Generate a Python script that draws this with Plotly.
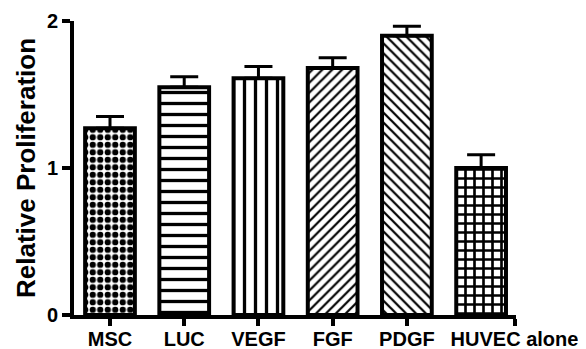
import plotly.graph_objects as go

categories = ["MSC", "LUC", "VEGF", "FGF", "PDGF", "HUVEC alone"]
values = [1.27, 1.55, 1.61, 1.68, 1.90, 1.00]
errors = [0.08, 0.07, 0.08, 0.07, 0.065, 0.09]
patterns = [".", "-", "|", "/", "\\", "+"]
pattern_sizes = [7.5, 11, 11, 7, 7, 9]
pattern_solidity = [0.55, 0.3, 0.3, 0.32, 0.32, 0.5]
y_ticks = [0, 1, 2]
# last label sits to the right of its bar, as in the reference
tick_positions = [0, 1, 2, 3, 4, 5.45]

positions = list(range(len(categories)))

fig = go.Figure()
fig.add_trace(go.Bar(
    x=positions,
    y=values,
    width=0.67,
    marker=dict(
        color="white",
        line=dict(color="black", width=4),
        pattern=dict(
            shape=patterns,
            size=pattern_sizes,
            solidity=pattern_solidity,
            fgcolor="black",
            bgcolor="white",
            fillmode="replace",
        ),
    ),
    error_y=dict(
        type="data",
        symmetric=False,
        array=errors,
        arrayminus=[0] * len(errors),
        color="black",
        thickness=3,
        width=14,
    ),
    showlegend=False,
))

font_family = "Arial, 'Liberation Sans', Helvetica, sans-serif"

# the page body has an 8px default margin, so the figure is sized to the
# remaining visible area
fig.update_layout(
    width=578,
    height=341,
    margin=dict(l=66, r=70, t=13, b=34, autoexpand=False),
    paper_bgcolor="white",
    plot_bgcolor="white",
    font=dict(family=font_family, color="black"),
    xaxis=dict(
        range=[-0.485, 5.47],
        tickmode="array",
        tickvals=tick_positions,
        ticktext=categories,
        tickfont=dict(size=20, family=font_family, color="black", weight="bold"),
        ticklabelstandoff=-4,
        showline=True,
        linecolor="black",
        linewidth=4,
        ticks="outside",
        ticklen=7,
        tickwidth=4,
        tickcolor="black",
        showgrid=False,
        zeroline=False,
        automargin=False,
        fixedrange=True,
    ),
    yaxis=dict(
        range=[0, 2],
        tickmode="array",
        tickvals=y_ticks,
        ticktext=[str(v) for v in y_ticks],
        tickfont=dict(size=20, family=font_family, color="black", weight="bold"),
        showline=True,
        linecolor="black",
        linewidth=4,
        ticks="outside",
        ticklen=8,
        tickwidth=4,
        tickcolor="black",
        showgrid=False,
        zeroline=False,
        automargin=False,
        title=dict(
            text="Relative Proliferation",
            font=dict(size=26, family=font_family, color="black", weight="bold"),
            standoff=5,
        ),
        fixedrange=True,
    ),
)

fig.write_html("out.html")
